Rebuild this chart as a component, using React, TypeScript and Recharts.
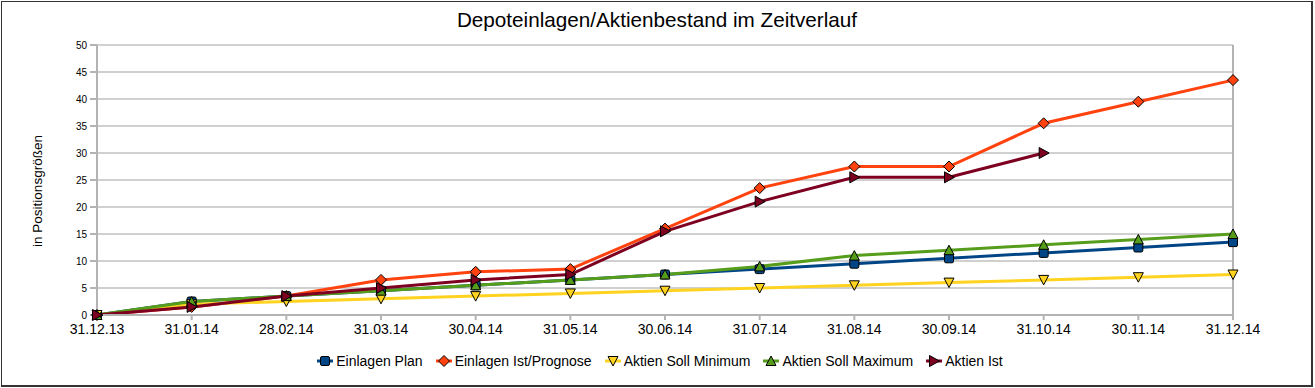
import React from 'react';
import { LineChart, Line, XAxis, YAxis, CartesianGrid, ReferenceLine } from 'recharts';

const categories = ['31.12.13', '31.01.14', '28.02.14', '31.03.14', '30.04.14', '31.05.14', '30.06.14', '31.07.14', '31.08.14', '30.09.14', '31.10.14', '30.11.14', '31.12.14'];
const einlagenPlan = [0, 2.5, 3.5, 4.5, 5.5, 6.5, 7.5, 8.5, 9.5, 10.5, 11.5, 12.5, 13.5];
const einlagenIst = [0, 1.5, 3.5, 6.5, 8, 8.5, 16, 23.5, 27.5, 27.5, 35.5, 39.5, 43.5];
const aktienMin = [0, 2, 2.5, 3, 3.5, 4, 4.5, 5, 5.5, 6, 6.5, 7, 7.5];
const aktienMax = [0, 2.5, 3.5, 4.5, 5.5, 6.5, 7.5, 9, 11, 12, 13, 14, 15];
const aktienIst: (number | null)[] = [0, 1.5, 3.5, 5, 6.5, 7.5, 15.5, 21, 25.5, 25.5, 30, null, null];
const yTicks = [0, 5, 10, 15, 20, 25, 30, 35, 40, 45, 50];

const title = 'Depoteinlagen/Aktienbestand im Zeitverlauf';
const yLabel = 'in Positionsgrößen';

type Shape = 'square' | 'diamond' | 'down' | 'up' | 'right';
const series: { key: string; name: string; color: string; shape: Shape; values: (number | null)[] }[] = [
  { key: 'plan', name: 'Einlagen Plan', color: '#004586', shape: 'square', values: einlagenPlan },
  { key: 'ist', name: 'Einlagen Ist/Prognose', color: '#ff420e', shape: 'diamond', values: einlagenIst },
  { key: 'min', name: 'Aktien Soll Minimum', color: '#ffd320', shape: 'down', values: aktienMin },
  { key: 'max', name: 'Aktien Soll Maximum', color: '#579d1c', shape: 'up', values: aktienMax },
  { key: 'aktienIst', name: 'Aktien Ist', color: '#7e0021', shape: 'right', values: aktienIst },
];

const data = categories.map((c, i) => {
  const row: Record<string, string | number | null> = { date: c };
  series.forEach((s) => { row[s.key] = s.values[i]; });
  return row;
});

function Marker({ shape, cx, cy, fill }: { shape: Shape; cx: number; cy: number; fill: string }) {
  const st = { fill, stroke: '#000', strokeWidth: 1 };
  switch (shape) {
    case 'square':
      return <rect x={cx - 4.5} y={cy - 4.5} width={9} height={9} rx={1.5} {...st} />;
    case 'diamond':
      return <polygon points={`${cx},${cy - 5.5} ${cx + 5.5},${cy} ${cx},${cy + 5.5} ${cx - 5.5},${cy}`} {...st} />;
    case 'down':
      return <polygon points={`${cx - 5},${cy - 4.5} ${cx + 5},${cy - 4.5} ${cx},${cy + 5}`} {...st} />;
    case 'up':
      return <polygon points={`${cx - 5},${cy + 4.5} ${cx + 5},${cy + 4.5} ${cx},${cy - 5}`} {...st} />;
    default:
      return <polygon points={`${cx - 4.5},${cy - 5.5} ${cx + 5.5},${cy} ${cx - 4.5},${cy + 5.5}`} {...st} />;
  }
}

const FONT = '"Liberation Sans", Arial, sans-serif';

export default function App() {
  return (
    <div style={{ position: 'absolute', left: 0, top: 0, width: 1315, height: 388, background: '#fff', fontFamily: FONT }}>
      <LineChart width={1315} height={388} data={data} margin={{ top: 45, right: 82, bottom: 43, left: 40 }}>
        <CartesianGrid vertical={false} stroke="#c0c0c0" strokeWidth={1.5} />
        <XAxis
          dataKey="date"
          height={30}
          interval={0}
          stroke="#b3b3b3"
          strokeWidth={2}
          tickSize={5}
          tickMargin={4}
          tick={{ fill: '#000', fontSize: 14, fontFamily: FONT }}
        />
        <YAxis
          width={57}
          domain={[0, 50]}
          ticks={yTicks}
          interval={0}
          stroke="#b3b3b3"
          strokeWidth={2}
          tickSize={7}
          tickMargin={3}
          tick={{ fill: '#000', fontSize: 10, fontFamily: FONT }}
        />
        <ReferenceLine x="31.12.14" stroke="#b3b3b3" strokeWidth={2} />
        {series.map((s) => (
          <Line
            key={s.key}
            dataKey={s.key}
            name={s.name}
            stroke={s.color}
            strokeWidth={3}
            isAnimationActive={false}
            connectNulls={false}
            activeDot={false}
            dot={(p: any) =>
              p.cx == null || p.cy == null || p.value == null ? (
                <g key={`${s.key}-${p.index}`} />
              ) : (
                <Marker key={`${s.key}-${p.index}`} shape={s.shape} cx={p.cx} cy={p.cy} fill={s.color} />
              )
            }
          />
        ))}
      </LineChart>
      <svg width={1315} height={388} style={{ position: 'absolute', left: 0, top: 0, pointerEvents: 'none' }}>
        <text x={657} y={27} textAnchor="middle" fontSize={20.7} fontFamily={FONT} fill="#000">{title}</text>
        <text x={0} y={0} transform="translate(42,191) rotate(-90)" textAnchor="middle" fontSize={13.5} fontFamily={FONT} fill="#000">{yLabel}</text>
      </svg>
      <div style={{ position: 'absolute', left: 8, top: 353, width: 1315, display: 'flex', justifyContent: 'center', fontSize: 14, lineHeight: '16px', color: '#000' }}>
        {series.map((s) => (
          <div key={s.key} style={{ display: 'flex', alignItems: 'center', marginRight: 12 }}>
            <svg width={18} height={14} style={{ marginRight: 2 }}>
              <line x1={1} y1={7} x2={17} y2={7} stroke={s.color} strokeWidth={3} />
              <Marker shape={s.shape} cx={9} cy={7} fill={s.color} />
            </svg>
            <span>{s.name}</span>
          </div>
        ))}
      </div>
      <div style={{ position: 'absolute', left: 1, top: 1, width: 1312, height: 386, boxSizing: 'border-box', borderTop: '1px solid #333', borderLeft: '1px solid #333', borderRight: '2px solid #333', borderBottom: '2px solid #333', pointerEvents: 'none' }} />
    </div>
  );
}
